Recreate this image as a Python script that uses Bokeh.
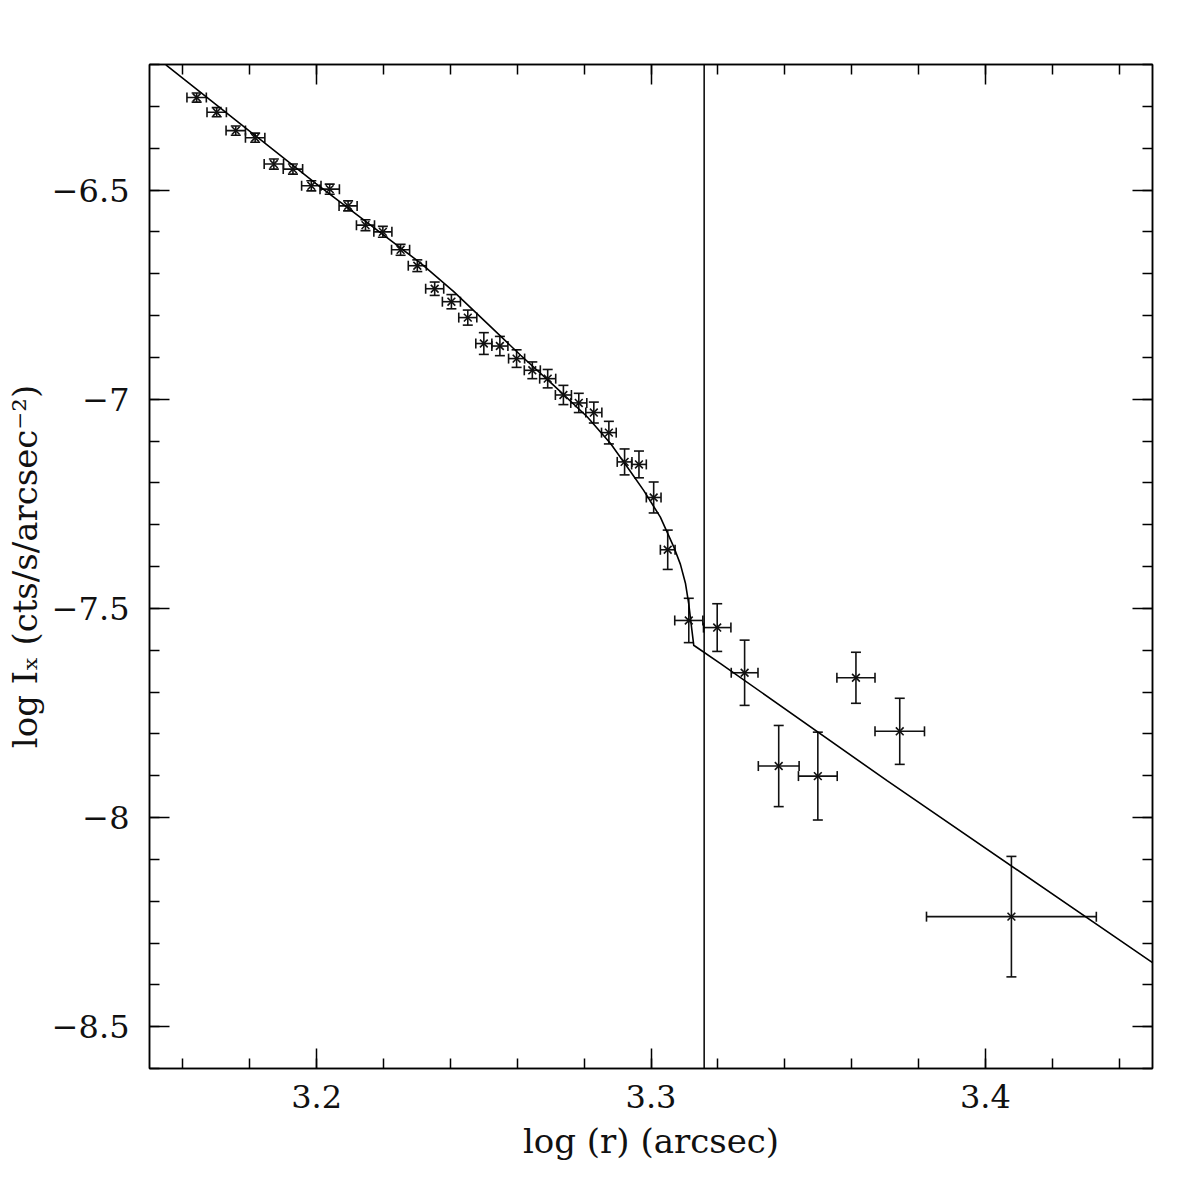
import numpy as np
from bokeh.plotting import figure
from bokeh.models import (ColumnDataSource, Whisker, TeeHead, Span, LinearAxis,
                          SingleIntervalTicker, CustomJSTickFormatter, Range1d)
from bokeh.embed import file_html
from bokeh.resources import INLINE

# Radial surface-brightness profile (log r in arcsec, log I_X in cts/s/arcsec^-2)
log_r = [3.1641, 3.1701, 3.1758, 3.1816, 3.1872, 3.1929, 3.1984, 3.2039,
         3.2094, 3.2146, 3.2198, 3.2251, 3.2301, 3.2353, 3.2403, 3.2452,
         3.2500, 3.2548, 3.2598, 3.2645, 3.2691, 3.2738, 3.2784, 3.2829,
         3.2874, 3.2921, 3.2964, 3.3008, 3.3050, 3.3113, 3.3198, 3.3280,
         3.3382, 3.3499, 3.3613, 3.3744, 3.4078]
log_I = [-6.279, -6.314, -6.358, -6.375, -6.438, -6.450, -6.490, -6.498,
         -6.538, -6.584, -6.600, -6.643, -6.681, -6.736, -6.767, -6.805,
         -6.867, -6.873, -6.903, -6.931, -6.951, -6.990, -7.009, -7.032,
         -7.080, -7.150, -7.156, -7.235, -7.360, -7.529, -7.546, -7.654,
         -7.877, -7.901, -7.666, -7.794, -8.237]
r_err = [0.0029, 0.0029, 0.0029, 0.0029, 0.0029, 0.0029, 0.0029, 0.0029,
         0.0027, 0.0027, 0.0027, 0.0027, 0.0027, 0.0027, 0.0027, 0.0027,
         0.0024, 0.0024, 0.0024, 0.0024, 0.0024, 0.0024, 0.0024, 0.0024,
         0.0022, 0.0022, 0.0022, 0.0022, 0.0022, 0.0042, 0.0041, 0.0040,
         0.0061, 0.0058, 0.0057, 0.0074, 0.0254]
I_err = [0.011, 0.011, 0.011, 0.011, 0.012, 0.012, 0.012, 0.012,
         0.012, 0.013, 0.013, 0.013, 0.014, 0.016, 0.017, 0.018,
         0.026, 0.023, 0.021, 0.020, 0.022, 0.023, 0.023, 0.025,
         0.027, 0.031, 0.032, 0.037, 0.047, 0.053, 0.057, 0.078,
         0.097, 0.105, 0.061, 0.079, 0.144]

# Best-fit projected model
model_r = [3.1549, 3.1997, 3.2311, 3.2410, 3.2510, 3.2610, 3.2709, 3.2809,
           3.2879, 3.2929, 3.2978, 3.3028, 3.3068, 3.3088, 3.3103, 3.3113,
           3.3122, 3.3128, 3.3131, 3.3208, 3.3706, 3.4500]
model_I = [-6.201, -6.484, -6.675, -6.743, -6.819, -6.895, -6.967, -7.042,
           -7.106, -7.162, -7.218, -7.282, -7.353, -7.395, -7.440, -7.490,
           -7.550, -7.589, -7.590, -7.632, -7.912, -8.347]

# Edge position
edge_r = 3.3159

x_ticks_major = 0.1
y_ticks_major = 0.5

r = np.array(log_r)
I = np.array(log_I)
dr = np.array(r_err)
dI = np.array(I_err)

src = ColumnDataSource(dict(r=r, I=I, r_lo=r - dr, r_hi=r + dr,
                            I_lo=I - dI, I_hi=I + dI))

FONT = "DejaVu Serif"
INK = "#111111"

p = figure(width=1196, height=1196,
           x_range=Range1d(3.15, 3.45), y_range=Range1d(-8.6, -6.2),
           output_backend="svg", toolbar_location=None,
           min_border_left=149, min_border_right=44,
           min_border_top=64, min_border_bottom=128)
p.grid.visible = False
p.background_fill_color = "white"
p.border_fill_color = "white"
p.outline_line_color = "black"
p.outline_line_width = 1.5

num_fmt = CustomJSTickFormatter(code="""
    const v = Math.round(tick * 100) / 100;
    return (v < 0 ? '\\u2212' : '') + Math.abs(v).toString();
""")
blank_fmt = CustomJSTickFormatter(code="return '';")


def style_axis(ax, interval, fmt):
    ax.ticker = SingleIntervalTicker(interval=interval, num_minor_ticks=5)
    ax.formatter = fmt
    ax.axis_line_color = "black"
    ax.axis_line_width = 1.5
    ax.major_tick_in = 20
    ax.major_tick_out = 0
    ax.minor_tick_in = 10
    ax.minor_tick_out = 0
    ax.major_tick_line_color = "black"
    ax.minor_tick_line_color = "black"
    ax.major_tick_line_width = 1.5
    ax.minor_tick_line_width = 1.5
    ax.major_label_text_font = FONT
    ax.major_label_text_font_size = "32px"
    ax.major_label_text_color = INK
    ax.axis_label_text_font = FONT
    ax.axis_label_text_font_size = "34px"
    ax.axis_label_text_font_style = "normal"
    ax.axis_label_text_color = INK


style_axis(p.xaxis[0], x_ticks_major, num_fmt)
style_axis(p.yaxis[0], y_ticks_major, num_fmt)
p.xaxis[0].axis_label = "log (r) (arcsec)"
p.xaxis[0].major_label_standoff = 16
p.xaxis[0].axis_label_standoff = 10
p.yaxis[0].axis_label = "log Iₓ (cts/s/arcsec⁻²)"
p.yaxis[0].major_label_standoff = 20
p.yaxis[0].axis_label_standoff = 4

top_ax = LinearAxis()
style_axis(top_ax, x_ticks_major, blank_fmt)
p.add_layout(top_ax, "above")
right_ax = LinearAxis()
style_axis(right_ax, y_ticks_major, blank_fmt)
p.add_layout(right_ax, "right")

# Edge marker
p.add_layout(Span(location=edge_r, dimension="height", line_color="black",
                  line_width=1.5))

# Model curve
p.line(model_r, model_I, line_color="black", line_width=1.6)

# Error bars
y_bars = Whisker(base="r", lower="I_lo", upper="I_hi", source=src,
                 dimension="height", line_color=INK, line_width=1.6,
                 lower_head=TeeHead(size=10, line_color=INK, line_width=1.6),
                 upper_head=TeeHead(size=10, line_color=INK, line_width=1.6))
x_bars = Whisker(base="I", lower="r_lo", upper="r_hi", source=src,
                 dimension="width", line_color=INK, line_width=1.6,
                 lower_head=TeeHead(size=10, line_color=INK, line_width=1.6),
                 upper_head=TeeHead(size=10, line_color=INK, line_width=1.6))
p.add_layout(y_bars)
p.add_layout(x_bars)

p.scatter("r", "I", source=src, marker="x", size=11, line_color=INK,
          line_width=1.6)

open("out.html", "w").write(file_html(p, INLINE))
